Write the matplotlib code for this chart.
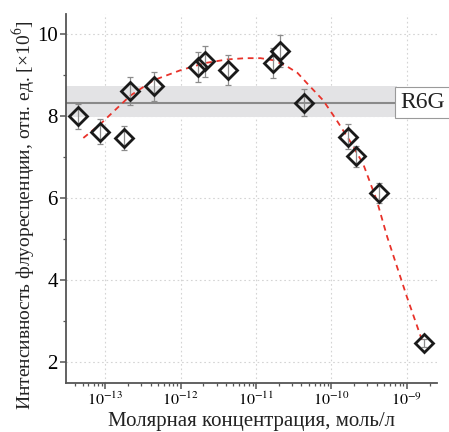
import numpy as np
import matplotlib
matplotlib.use("Agg")
import matplotlib.pyplot as plt
from matplotlib.ticker import LogLocator, MultipleLocator, NullFormatter

plt.rcParams['font.family'] = ['Liberation Serif', 'DejaVu Serif']
plt.rcParams['mathtext.fontset'] = 'stix'

# ---- data ----
conc = [4.4e-14, 8.6e-14, 1.75e-13, 2.1e-13, 4.4e-13, 1.7e-12, 2.1e-12, 4.3e-12,
        1.7e-11, 2.1e-11, 4.3e-11, 1.66e-10, 2.1e-10, 4.3e-10, 1.7e-9]
intensity = [8.00, 7.62, 7.47, 8.61, 8.73, 9.20, 9.34, 9.13,
             9.30, 9.59, 8.33, 7.50, 7.02, 6.12, 2.45]
err = [0.30, 0.31, 0.30, 0.34, 0.35, 0.37, 0.38, 0.37,
       0.37, 0.39, 0.33, 0.30, 0.26, 0.25, 0.10]

fit_logc = [-13.29, -13.07, -12.87, -12.67, -12.36, -12.01, -11.68, -11.38, -11.14,
            -10.94, -10.77, -10.59, -10.45, -10.32, -10.11, -9.93, -9.76, -9.58,
            -9.40, -9.26, -9.13, -9.00, -8.86, -8.80]
fit_y = [7.47, 7.80, 8.15, 8.50, 8.88, 9.12, 9.30, 9.39, 9.42,
         9.42, 9.37, 9.22, 9.06, 8.80, 8.39, 7.90, 7.41, 6.84,
         5.95, 5.05, 4.32, 3.59, 2.85, 2.53]

r6g_mean = 8.33
r6g_low = 7.98
r6g_high = 8.73
r6g_label = "R6G"

xticks = [1e-13, 1e-12, 1e-11, 1e-10, 1e-9]
xticklabels = [r"$10^{-13}$", r"$10^{-12}$", r"$10^{-11}$", r"$10^{-10}$", r"$10^{-9}$"]
yticks = [2, 4, 6, 8, 10]

# ---- figure ----
fig = plt.figure(figsize=(4.49, 4.32), dpi=100)
ax = fig.add_axes([66/449, 1-383/432, (437-66)/449, (383-14)/432])

spine_c = '#555555'
band_end = (397-66)/(437-66)

ax.axhspan(r6g_low, r6g_high, xmin=0, xmax=band_end, color='#e3e3e5', lw=0, zorder=1)
ax.axhline(r6g_mean, xmin=0, xmax=band_end, color='#8a8a8a', lw=1.5, zorder=2)

ax.plot(10**np.array(fit_logc), fit_y, color='#e8322a', lw=1.3,
        linestyle=(0, (3.2, 2.6)), zorder=3)

ax.errorbar(conc, intensity, yerr=err, fmt='none', ecolor='#8c8c8c',
            elinewidth=0.9, capsize=2.2, capthick=0.9, zorder=4)
ax.plot(conc, intensity, linestyle='none', marker='D', ms=8.8,
        mfc='none', mec='#1a1a1a', mew=2.0, zorder=5)

ax.text(band_end + 0.009, r6g_mean, r6g_label, transform=ax.get_yaxis_transform(),
        ha='left', va='center', fontsize=17, color='#222222', clip_on=False,
        bbox=dict(boxstyle='square,pad=0.22', fc='white', ec='#9a9a9a', lw=0.8),
        zorder=6)

ax.set_xscale('log')
ax.set_xlim(10**-13.52, 10**-8.6)
ax.set_ylim(1.48, 10.5)

ax.set_xticks(xticks)
ax.set_xticklabels(xticklabels, fontsize=11.5)
ax.xaxis.set_minor_locator(LogLocator(base=10, subs=np.arange(2, 10)))
ax.xaxis.set_minor_formatter(NullFormatter())
ax.set_yticks(yticks)
ax.set_yticklabels([str(v) for v in yticks], fontsize=15)
ax.yaxis.set_minor_locator(MultipleLocator(1))

for s in ['top', 'right']:
    ax.spines[s].set_visible(False)
for s in ['left', 'bottom']:
    ax.spines[s].set_color(spine_c)
    ax.spines[s].set_linewidth(1.3)

ax.tick_params(which='major', direction='out', length=4.5, width=1.1, color=spine_c, pad=1.5)
ax.tick_params(which='minor', direction='out', length=2.2, width=0.9, color=spine_c)
ax.tick_params(axis='x', which='major', pad=2)

ax.grid(True, which='major', linestyle=(0, (1.5, 2.5)), color='#d4d4d4', lw=0.8)
ax.set_axisbelow(True)

ax.set_xlabel("Молярная концентрация, моль/л", fontsize=15, labelpad=2, color='#222222')
ax.set_ylabel(r"Интенсивность флуоресценции, отн. ед. [×10$^{6}$]", fontsize=14.0,
              color='#222222')
ax.yaxis.set_label_coords(-0.078, (383-215.5)/369)

fig.savefig("out.png", dpi=100, facecolor='white')
